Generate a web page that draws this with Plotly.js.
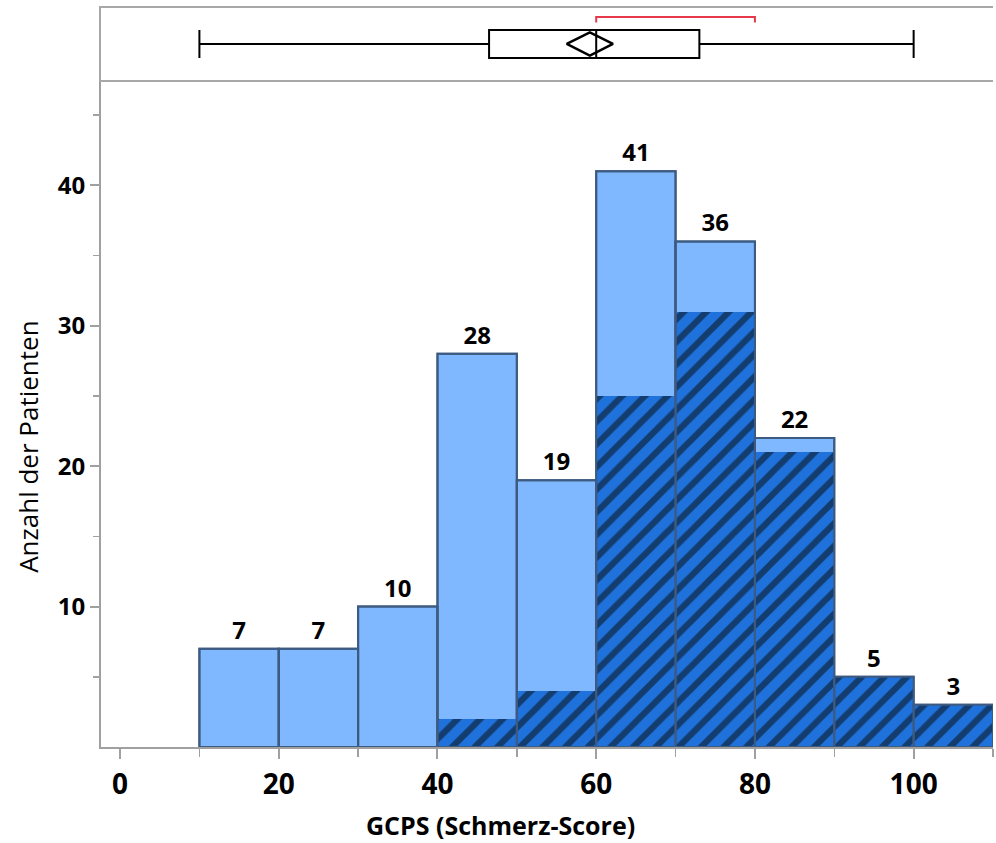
<!DOCTYPE html>
<html>
<head>
<meta charset="utf-8">
<script src="https://cdn.plot.ly/plotly-3.0.1.min.js"></script>
<style>html,body{margin:0;padding:0;background:#fff;}#chart{width:996px;height:843px;}</style>
</head>
<body>
<div id="chart"></div>
<script>
// bins (left edges) of width 10
const binStarts = [10, 20, 30, 40, 50, 60, 70, 80, 90, 100];
const binWidth = 10;
const totalCounts = [7, 7, 10, 28, 19, 41, 36, 22, 5, 3];
const subsetCounts = [0, 0, 0, 2, 4, 25, 31, 21, 5, 3];

// box plot summary
const boxMin = 10;
const boxQ1 = 46.5;
const boxMedian = 60;
const boxQ3 = 73;
const boxMax = 100;
const boxMean = 59.2;
const shortestHalf = [60, 80];

const xTickVals = [0, 20, 40, 60, 80, 100];
const yTickVals = [10, 20, 30, 40];

const centers = binStarts.map(b => b + binWidth / 2);
const outline = '#3d5a80';

const traces = [
  {
    type: 'bar', x: centers, y: totalCounts, width: binWidth,
    marker: {color: '#80b8ff', line: {color: outline, width: 2}},
    text: totalCounts.map(String), textposition: 'outside', cliponaxis: false,
    textfont: {family: 'Open Sans, sans-serif', size: 24, color: '#000', weight: 'bold'},
    xaxis: 'x', yaxis: 'y', hoverinfo: 'x+y', showlegend: false
  },
  {
    type: 'bar', x: centers, y: subsetCounts, width: binWidth,
    marker: {color: '#1f72dc', line: {color: outline, width: 0},
      pattern: {shape: '/', fgcolor: '#0d1826', fgopacity: 0.6, bgcolor: '#1f72dc', size: 16, solidity: 0.4}},
    xaxis: 'x', yaxis: 'y', hoverinfo: 'x+y', showlegend: false
  },
  {
    type: 'bar', x: centers, y: totalCounts, width: binWidth,
    marker: {color: 'rgba(0,0,0,0)', line: {color: outline, width: 2}},
    xaxis: 'x', yaxis: 'y', hoverinfo: 'skip', showlegend: false
  },
  {
    type: 'box', orientation: 'h', y: [0],
    q1: [boxQ1], median: [boxMedian], q3: [boxQ3],
    lowerfence: [boxMin], upperfence: [boxMax],
    width: 0.78, whiskerwidth: 1, boxpoints: false,
    fillcolor: '#fff', line: {color: '#000', width: 2},
    xaxis: 'x2', yaxis: 'y2', showlegend: false
  },
  {
    type: 'scatter', mode: 'markers', x: [boxMean], y: [0],
    marker: {symbol: 'diamond-wide-open', size: 33, color: '#000', line: {color: '#000', width: 2.5}},
    xaxis: 'x2', yaxis: 'y2', showlegend: false
  },
  {
    type: 'scatter', mode: 'lines',
    x: [shortestHalf[0], shortestHalf[0], shortestHalf[1], shortestHalf[1]],
    y: [0.6, 0.75, 0.75, 0.6],
    line: {color: '#e8394a', width: 2},
    xaxis: 'x2', yaxis: 'y2', showlegend: false
  }
];

const layout = {
  width: 996, height: 843,
  margin: {l: 101, r: 3, t: 8, b: 96},
  paper_bgcolor: '#fff', plot_bgcolor: '#fff',
  barmode: 'overlay', bargap: 0,
  showlegend: false,
  xaxis: {
    domain: [0, 1], range: [-2.4, 110], anchor: 'y',
    tickvals: xTickVals, ticks: 'outside', ticklen: 10, tickwidth: 2, tickcolor: '#a0a0a0',
    minor: {dtick: 10, tick0: 0, ticks: 'outside', ticklen: 8, tickwidth: 1.5, tickcolor: '#a0a0a0'},
    showline: true, linecolor: '#a0a0a0', linewidth: 2,
    showgrid: false, zeroline: false,
    tickfont: {family: 'Open Sans, Noto Sans, sans-serif', size: 28, color: '#000', weight: 'bold'},
    ticklabelstandoff: 1
  },
  yaxis: {
    domain: [0, 0.9026], range: [0, 47.5], anchor: 'x',
    tickvals: yTickVals, ticks: 'outside', ticklen: 9, tickwidth: 2, tickcolor: '#a0a0a0',
    minor: {tickvals: [5, 15, 25, 35, 45], ticks: 'outside', ticklen: 6, tickwidth: 1.5, tickcolor: '#a0a0a0'},
    showline: true, linecolor: '#a0a0a0', linewidth: 2,
    showgrid: false, zeroline: false,
    tickfont: {family: 'Open Sans, Noto Sans, sans-serif', size: 24, color: '#000', weight: 'bold'},
    ticklabelstandoff: 0
  },
  xaxis2: {
    domain: [0, 1], range: [-2.4, 110], anchor: 'y2', matches: 'x',
    showline: true, mirror: true, linecolor: '#a8a8a8', linewidth: 2,
    showticklabels: false, ticks: '', showgrid: false, zeroline: false
  },
  yaxis2: {
    domain: [0.9026, 1], range: [-1, 1], anchor: 'x2',
    showline: true, linecolor: '#a8a8a8', linewidth: 2,
    showticklabels: false, ticks: '', showgrid: false, zeroline: false
  },
  annotations: [
    {
      text: 'Anzahl der Patienten', textangle: -90, showarrow: false,
      xref: 'paper', yref: 'paper', x: -0.082, y: 0.406, xanchor: 'center', yanchor: 'middle',
      font: {family: 'Open Sans, sans-serif', size: 26, color: '#000'}
    },
    {
      text: 'GCPS (Schmerz-Score)', showarrow: false,
      xref: 'paper', yref: 'paper', x: 0.448, y: -0.106, xanchor: 'center', yanchor: 'middle',
      font: {family: 'Open Sans, sans-serif', size: 25, color: '#000', weight: 'bold'}
    }
  ]
};

Plotly.newPlot('chart', traces, layout, {displayModeBar: false, staticPlot: true});
</script>
</body>
</html>
